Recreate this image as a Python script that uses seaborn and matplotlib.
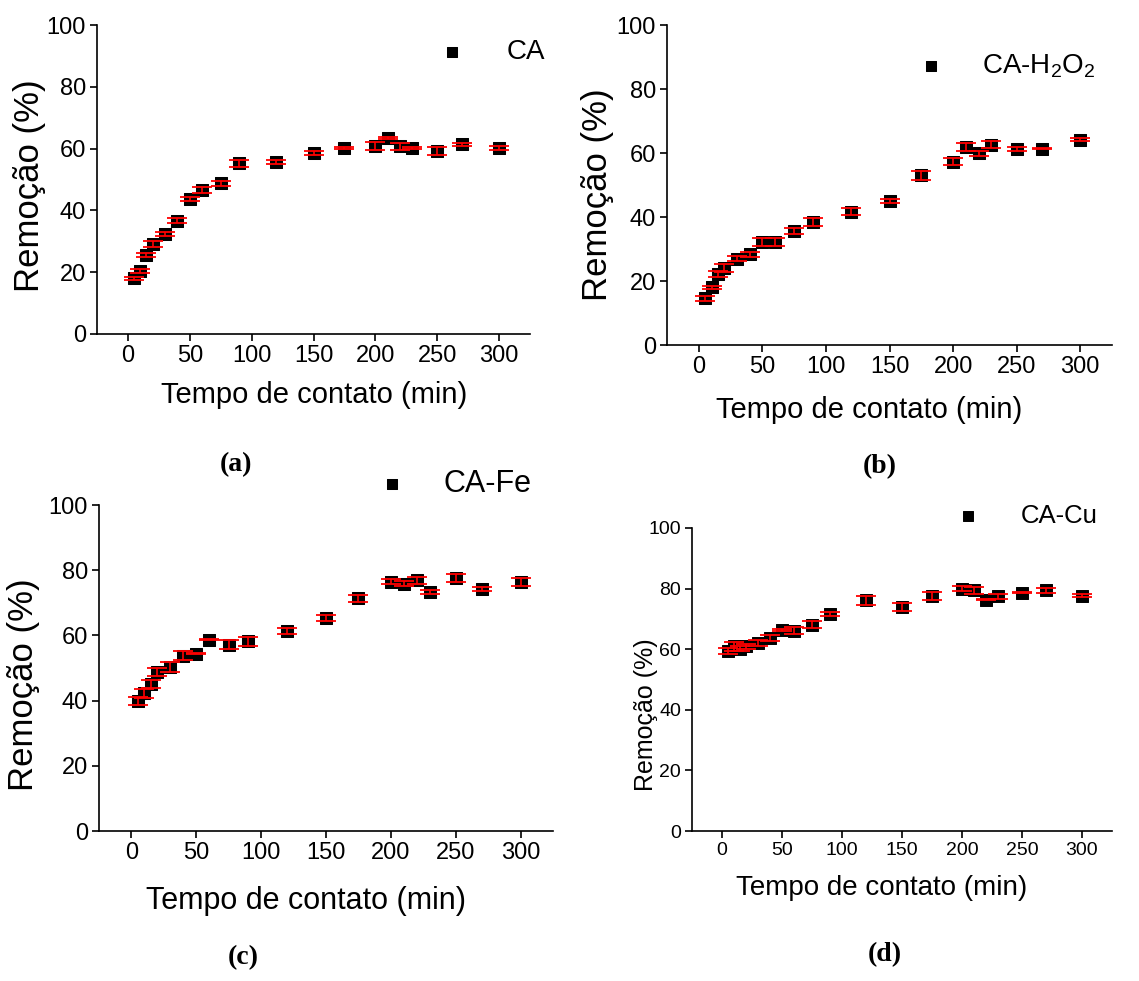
import matplotlib
matplotlib.use('Agg')
import matplotlib.pyplot as plt
import seaborn as sns

sns.set_style('ticks')
plt.rcParams['font.family'] = ['Liberation Sans', 'DejaVu Sans']
plt.rcParams['mathtext.fontset'] = 'custom'
plt.rcParams['mathtext.rm'] = 'Liberation Sans'
plt.rcParams['mathtext.it'] = 'Liberation Sans'
plt.rcParams['text.color'] = 'black'
plt.rcParams['axes.labelcolor'] = 'black'

# Data
tempo = [5, 10, 15, 20, 30, 40, 50, 60, 75, 90, 120, 150, 175, 200, 210, 220, 230, 250, 270, 300]

ca = [18.0, 20.4, 25.6, 29.1, 32.3, 36.7, 43.6, 46.6, 48.8, 55.2,
      55.7, 58.7, 60.2, 60.9, 63.4, 60.7, 60.2, 59.2, 61.4, 60.2]
ca_err = [0.55, 0.65, 0.65, 0.85, 0.65, 0.7, 0.7, 1.0, 0.85, 1.2,
          0.75, 0.65, 0.2, 1.2, 0.4, 1.2, 0.2, 1.2, 0.4, 0.75]

ca_h2o2 = [14.6, 18.0, 22.1, 24.0, 27.0, 28.4, 32.2, 32.2, 35.7, 38.5,
           41.7, 45.0, 53.0, 57.3, 61.8, 59.9, 62.6, 61.3, 61.3, 64.1]
ca_h2o2_err = [0.8, 0.4, 0.9, 1.2, 0.9, 0.8, 1.35, 1.35, 0.9, 1.25,
               1.15, 0.5, 1.3, 1.0, 1.2, 0.8, 1.1, 0.7, 0.2, 0.5]

ca_fe = [39.8, 42.2, 45.2, 48.8, 50.3, 53.8, 54.4, 58.7, 57.2, 58.2,
         61.3, 65.4, 71.4, 76.5, 75.9, 76.9, 73.3, 77.6, 74.3, 76.4]
ca_fe_err = [1.3, 1.4, 1.2, 1.3, 1.4, 1.4, 0.1, 0.1, 1.3, 1.4,
             1.0, 0.9, 1.1, 0.7, 0.8, 1.1, 0.6, 1.1, 0.7, 1.3]

ca_cu = [59.3, 60.9, 60.2, 60.9, 62.0, 63.7, 66.4, 66.1, 68.1, 71.7,
         76.1, 73.8, 77.7, 80.0, 79.4, 76.4, 77.5, 78.6, 79.4, 77.7]
ca_cu_err = [1.0, 1.4, 0.9, 0.9, 1.1, 0.9, 0.4, 1.1, 1.1, 0.7,
             1.4, 1.3, 1.3, 0.9, 1.1, 0.2, 0.8, 0.2, 0.9, 0.5]

W, H = 1139, 981
fig = plt.figure(figsize=(W / 100, H / 100), dpi=100)


def px_axes(left, top, right, bottom):
    return fig.add_axes([left / W, 1 - bottom / H, (right - left) / W, (bottom - top) / H])


panels = [
    # box = axes (left, top, right, bottom) in px; ylab = (right edge x, centre y); xlab = (centre x, top y)
    dict(y=ca, e=ca_err, name='CA', box=(97, 25, 530, 334), leg=(452, 52), pad=1.7,
         tick=17, xl=21, yl=25, lf=20, ylab=(46, 186), xlab=(314, 381),
         tag='(a)', tagpos=(236, 465), ms=85),
    dict(y=ca_h2o2, e=ca_h2o2_err, name='CA-H$_2$O$_2$', box=(667, 25, 1112, 345), leg=(931, 66), pad=1.6,
         tick=17, xl=21, yl=25, lf=20, ylab=(614, 195), xlab=(869, 396),
         tag='(b)', tagpos=(880, 467), ms=85),
    dict(y=ca_fe, e=ca_fe_err, name='CA-Fe', box=(99, 505, 553, 831), leg=(392, 484), pad=1.45,
         tick=17, xl=22, yl=25, lf=22, ylab=(40, 685), xlab=(306, 886),
         tag='(c)', tagpos=(243, 958), ms=85),
    dict(y=ca_cu, e=ca_cu_err, name='CA-Cu', box=(692, 528, 1112, 831), leg=(968, 516), pad=1.8,
         tick=14, xl=20, yl=18, lf=18.5, ylab=(658, 715), xlab=(882, 875),
         tag='(d)', tagpos=(885, 955), ms=75),
]

for p in panels:
    ax = px_axes(*p['box'])
    sns.scatterplot(x=tempo, y=p['y'], marker='s', color='black', edgecolor='black',
                    s=p['ms'], label=p['name'], ax=ax, zorder=2)
    ax.errorbar(tempo, p['y'], yerr=p['e'], fmt='none', ecolor='red', elinewidth=1.2,
                capsize=7, capthick=1.3, zorder=3)

    ax.set_xlim(-25, 325)
    ax.set_ylim(0, 100)
    ax.set_xticks(range(0, 301, 50))
    ax.set_yticks(range(0, 101, 20))
    sns.despine(ax=ax)
    for s in ['left', 'bottom']:
        ax.spines[s].set_linewidth(1.2)
        ax.spines[s].set_color('black')
    ax.tick_params(axis='both', direction='out', length=5, width=1.2, colors='black',
                   labelcolor='black', labelsize=p['tick'], pad=3)

    ax.set_xlabel('Tempo de contato (min)', fontsize=p['xl'], color='black')
    ax.set_ylabel('Remoção (%)', fontsize=p['yl'], color='black')
    ylx, yly = p['ylab']
    xlx, xly = p['xlab']
    ax.yaxis.set_label_coords(ylx / W, 1 - yly / H, transform=fig.transFigure)
    ax.xaxis.set_label_coords(xlx / W, 1 - xly / H, transform=fig.transFigure)

    # legend: square marker followed by the series name
    fs_px = p['lf'] * 100 / 72
    hl = 0.5
    mx, my = p['leg']
    ax.legend(loc='center left', bbox_to_anchor=((mx - hl * fs_px / 2) / W, 1 - my / H),
              bbox_transform=fig.transFigure, frameon=False, fontsize=p['lf'],
              handlelength=hl, handletextpad=p['pad'], borderpad=0, borderaxespad=0,
              markerscale=0.85, labelcolor='black')

    tx, ty = p['tagpos']
    fig.text(tx / W, 1 - ty / H, p['tag'], ha='center', va='center', fontsize=20,
             fontweight='bold', family='Liberation Serif', color='black')

fig.savefig('out.png', dpi=100)
